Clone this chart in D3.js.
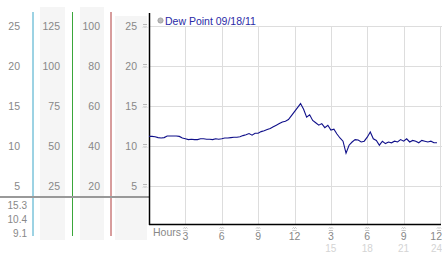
<!DOCTYPE html>
<html>
<head>
<meta charset="utf-8">
<script src="https://cdn.jsdelivr.net/npm/d3@7"></script>
<style>
  body { margin: 0; background: #fff; }
  svg { display: block; font-family: "Liberation Sans", Arial, sans-serif; }
</style>
</head>
<body>
<div class="chart"></div>
<script>
const WIDTH = 442;
const HEIGHT = 253;

// dew point reading every 15 minutes, hours after midnight
const hours = d3.range(0, 24, 0.25);
const dewPoint = [
  11.2, 11.2, 11.15, 11.05, 11.0, 11.05, 11.25, 11.25, 11.25, 11.25, 11.2, 11.0,
  10.9, 10.8, 10.85, 10.8, 10.8, 10.9, 10.9, 10.85, 10.85, 10.8, 10.9, 10.85,
  10.9, 11.0, 11.0, 11.05, 11.1, 11.1, 11.15, 11.3, 11.4, 11.55, 11.35, 11.6,
  11.6, 11.8, 11.9, 12.05, 12.2, 12.4, 12.6, 12.8, 13.0, 13.1, 13.3, 13.8,
  14.3, 14.8, 15.3, 14.6, 13.6, 13.9, 13.2, 12.9, 12.6, 12.8, 12.3, 12.6,
  12.0, 12.1, 11.5, 11.0, 10.6, 9.1, 10.1, 10.5, 10.8, 10.75, 10.5, 10.6,
  11.1, 11.75, 10.9, 10.7, 10.1, 10.6, 10.3, 10.5, 10.4, 10.6, 10.5, 10.8,
  10.6, 10.9, 10.5, 10.7, 10.6, 10.4, 10.7, 10.6, 10.5, 10.6, 10.4, 10.4
];

const yTicks = [5, 10, 15, 20, 25];
const col2Ticks = [25, 50, 75, 100, 125];
const col3Ticks = [20, 40, 60, 80, 100];
const hourTicks = [3, 6, 9, 12, 15, 18, 21, 24];
const hourLabels = ["3", "6", "9", "12", "3", "6", "9", "12"];
const hourLabels24 = ["", "", "", "", "15", "18", "21", "24"];
const stats = ["15.3", "10.4", "9.1"];
const legendLabel = "Dew Point 09/18/11";

const svg = d3.select(".chart").append("svg")
  .attr("width", WIDTH)
  .attr("height", HEIGHT);

const x = d3.scaleLinear().domain([0, 24]).range([149, 440]);
const y = d3.scaleLinear().domain([0, 25]).range([226, 26]);
const y2 = d3.scaleLinear().domain([0, 125]).range([226, 26]);
const y3 = d3.scaleLinear().domain([0, 100]).range([226, 26]);

// tiny "≈" style marker drawn as a path
const markPath = (cx, cy) =>
  `M${cx - 2},${cy - 1} l1,-1 l1,1 l1,-1 l1,1 M${cx - 2},${cy + 1.5} l1,-1 l1,1 l1,-1 l1,1`;

// gray column backgrounds
svg.append("rect").attr("x", 40).attr("y", 7).attr("width", 25).attr("height", 233).attr("fill", "#f5f5f5");
svg.append("rect").attr("x", 80).attr("y", 7).attr("width", 24).attr("height", 233).attr("fill", "#f5f5f5");
svg.append("rect").attr("x", 115).attr("y", 16).attr("width", 32).attr("height", 224).attr("fill", "#f5f5f5");

// colored separators
const seps = [[33, "#3aa6c8"], [72.5, "#3aa63a"], [111, "#b03a3a"]];
svg.append("g").selectAll("line").data(seps).join("line")
  .attr("x1", d => d[0]).attr("x2", d => d[0])
  .attr("y1", 12).attr("y2", 236)
  .attr("stroke", d => d[1]).attr("stroke-width", 1);

// horizontal divider
svg.append("line").attr("x1", 0).attr("x2", 149).attr("y1", 197).attr("y2", 197)
  .attr("stroke", "#999").attr("stroke-width", 2);

const labelStyle = sel => sel
  .attr("font-size", 10.5).attr("fill", "#888")
  .attr("text-anchor", "end").attr("dy", "0.35em");

svg.append("g").selectAll("text").data(yTicks).join("text")
  .attr("x", 20).attr("y", d => y(d)).text(d => d).call(labelStyle);
svg.append("g").selectAll("text").data(col2Ticks).join("text")
  .attr("x", 60).attr("y", d => y2(d)).text(d => d).call(labelStyle);
svg.append("g").selectAll("text").data(col3Ticks).join("text")
  .attr("x", 100).attr("y", d => y3(d)).text(d => d).call(labelStyle);
svg.append("g").selectAll("text").data(yTicks).join("text")
  .attr("x", 137).attr("y", d => y(d)).text(d => d).call(labelStyle);

// small marks next to the axis
svg.append("g").selectAll("path").data(yTicks).join("path")
  .attr("d", d => markPath(145, y(d)))
  .attr("fill", "none").attr("stroke", "#aaa").attr("stroke-width", 0.8);

svg.append("g").selectAll("text").data(stats).join("text")
  .attr("x", 27).attr("y", (d, i) => 205 + i * 14).text(d => d)
  .attr("font-size", 10).attr("fill", "#888").attr("text-anchor", "end").attr("dy", "0.35em");

// plot area
svg.append("rect").attr("x", 149).attr("y", 13).attr("width", 293).attr("height", 212).attr("fill", "#fff");

const grid = svg.append("g").attr("stroke", "#ddd").attr("stroke-width", 1);
grid.selectAll(".h").data(yTicks).join("line")
  .attr("x1", 149).attr("x2", 442)
  .attr("y1", d => Math.round(y(d)) + 0.5).attr("y2", d => Math.round(y(d)) + 0.5);
grid.selectAll(".v").data(hourTicks).join("line")
  .attr("x1", d => Math.round(x(d)) + 0.5).attr("x2", d => Math.round(x(d)) + 0.5)
  .attr("y1", y(25)).attr("y2", 224);

// axes lines
svg.append("line").attr("x1", 149.5).attr("x2", 149.5).attr("y1", 13).attr("y2", 225)
  .attr("stroke", "#000").attr("stroke-width", 1.5);
svg.append("line").attr("x1", 149).attr("x2", 441).attr("y1", 224.5).attr("y2", 224.5)
  .attr("stroke", "#000").attr("stroke-width", 1.5);

// dew point line
const line = d3.line().x((d, i) => x(hours[i])).y(d => y(d));
svg.append("path").datum(dewPoint)
  .attr("d", line)
  .attr("fill", "none")
  .attr("stroke", "#10108a")
  .attr("stroke-width", 1.1);

// legend
svg.append("circle").attr("cx", 160.5).attr("cy", 20.5).attr("r", 2.6)
  .attr("fill", "#bbb").attr("stroke", "#999").attr("stroke-width", 0.8);
svg.append("text").attr("x", 165).attr("y", 24.5).text(legendLabel)
  .attr("font-size", 10.5).attr("fill", "#2a2aa6");

// bottom axis
svg.append("text").attr("x", 153).attr("y", 235.5).text("Hours")
  .attr("font-size", 10.5).attr("fill", "#888");
svg.append("g").selectAll("path").data(hourTicks).join("path")
  .attr("d", d => markPath(Math.min(x(d), 439), 229.5))
  .attr("fill", "none").attr("stroke", "#aaa").attr("stroke-width", 0.8);
const last = hourTicks.length - 1;
svg.append("g").selectAll("text").data(hourTicks).join("text")
  .attr("x", (d, i) => i === last ? 442 : x(d))
  .attr("text-anchor", (d, i) => i === last ? "end" : "middle")
  .attr("y", 239.5).text((d, i) => hourLabels[i])
  .attr("font-size", 10.5).attr("fill", "#888");
svg.append("g").selectAll("text").data(hourTicks).join("text")
  .attr("x", (d, i) => i === last ? 442 : x(d))
  .attr("text-anchor", (d, i) => i === last ? "end" : "middle")
  .attr("y", 251.5).text((d, i) => hourLabels24[i])
  .attr("font-size", 10).attr("fill", "#d4d4d4");
</script>
</body>
</html>
